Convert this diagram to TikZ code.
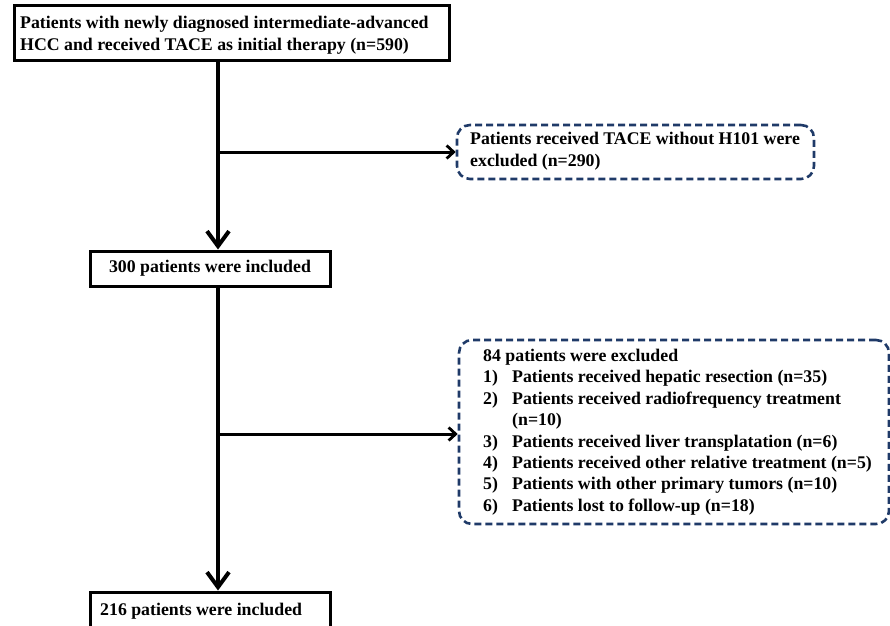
\documentclass[tikz,border=0pt]{standalone}
\usepackage{fontspec}
\setmainfont{Liberation Serif}
\usetikzlibrary{arrows.meta}
\definecolor{dblue}{HTML}{1F3A68}
\tikzset{
  solidbox/.style={draw=black, line width=3pt, rectangle, inner sep=0pt, font=\bfseries\fontsize{17.8}{22}\selectfont},
  dashbox/.style={draw=dblue, line width=2.6pt, dash pattern=on 7pt off 4pt, rounded corners=13pt, rectangle, inner sep=0pt},
  mainarrow/.style={line width=4pt, -{Straight Barb[length=15pt,width=22pt,line width=4pt]}},
  sidearrow/.style={line width=3pt, -{Straight Barb[length=7pt,width=13pt,line width=2.8pt]}},
  txt/.style={inner sep=0pt, align=left, font=\bfseries\fontsize{17.8}{22}\selectfont}
}
\begin{document}
\begin{tikzpicture}[x=1pt,y=-1pt]
\useasboundingbox (0,0) rectangle (890,625);
\begin{scope}
\clip (0,0) rectangle (890,625);
\node[solidbox, minimum width=435pt, minimum height=55pt] (top) at (231.5,32.5) {};
\node[txt, anchor=west] (toptext) at (20,35) {Patients with newly diagnosed intermediate-advanced\\HCC and received TACE as initial therapy (n=590)};
\node[solidbox, minimum width=240pt, minimum height=35pt] (b300) at (210,268.5) {300 patients were included};
\node[solidbox, minimum width=240pt, minimum height=40pt] (b216) at (210,612) {};
\node[txt, anchor=west] (b216text) at (100,611) {216 patients were included};
\node[dashbox, minimum width=357pt, minimum height=54pt] (ex1) at (635.5,152) {};
\node[txt, anchor=west] (ex1text) at (470,151) {Patients received TACE without H101 were\\excluded (n=290)};
\node[dashbox, minimum width=430pt, minimum height=184pt] (ex2) at (674,432) {};
\node[txt, anchor=north west, font=\bfseries\fontsize{17.8}{21.4}\selectfont] (ex2text) at (483,349) {84 patients were excluded\\
\makebox[29pt][l]{1)}Patients received hepatic resection (n=35)\\
\makebox[29pt][l]{2)}Patients received radiofrequency treatment\\
\hspace*{29pt}(n=10)\\
\makebox[29pt][l]{3)}Patients received liver transplatation (n=6)\\
\makebox[29pt][l]{4)}Patients received other relative treatment (n=5)\\
\makebox[29pt][l]{5)}Patients with other primary tumors (n=10)\\
\makebox[29pt][l]{6)}Patients lost to follow-up (n=18)};
\coordinate (j1) at (218,152);
\coordinate (j2) at (218,434);
\draw[mainarrow] (top.south -| j1) -- (b300.north -| j1);
\draw[mainarrow] (b300.south -| j1) -- (b216.north -| j1);
\draw[sidearrow] (j1) -- (ex1.west);
\draw[sidearrow] (j2) -- (ex2.west |- j2);
\end{scope}
\end{tikzpicture}
\end{document}
